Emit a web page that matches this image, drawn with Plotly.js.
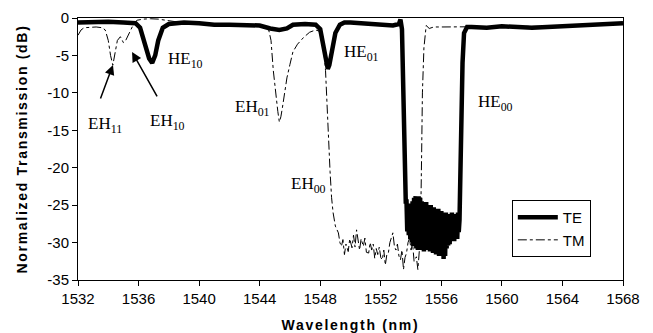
<!DOCTYPE html>
<html>
<head>
<meta charset="utf-8">
<script src="https://cdn.plot.ly/plotly-3.0.1.min.js"></script>
<style>
  html, body { margin: 0; padding: 0; background: #fff; }
  #chart { width: 653px; height: 333px; }
  .xtitle, .ytitle { letter-spacing: 1.7px; }
</style>
</head>
<body>
<div id="chart"></div>
<script>
// TE (thick solid) measured transmission
const teWavelength = [
  1532.0, 1533.0, 1534.0, 1535.0, 1535.8, 1536.1, 1536.4, 1536.7, 1536.9, 1537.1,
  1537.3, 1537.6, 1538.0, 1539.0, 1540.0, 1541.0, 1542.0, 1543.0, 1544.0, 1544.7,
  1545.3, 1545.8, 1546.2, 1547.0, 1547.7, 1548.0, 1548.2, 1548.4, 1548.5, 1548.6,
  1548.8, 1549.0, 1549.3, 1549.6, 1550.0, 1551.0, 1552.0, 1552.8, 1553.2, 1553.3,
  1553.4, 1553.45, 1553.5, 1553.55, 1553.6, 1553.65,
  1553.70, 1553.75, 1553.80, 1553.85, 1553.90, 1553.95, 1554.00, 1554.05, 1554.10, 1554.15,
  1554.20, 1554.25, 1554.30, 1554.35, 1554.40, 1554.45, 1554.50, 1554.55, 1554.60, 1554.65,
  1554.70, 1554.75, 1554.80, 1554.85, 1554.90, 1554.95, 1555.00, 1555.05, 1555.10, 1555.15,
  1555.20, 1555.25, 1555.30, 1555.35, 1555.40, 1555.45, 1555.50, 1555.55, 1555.60, 1555.65,
  1555.70, 1555.75, 1555.80, 1555.85, 1555.90, 1555.95, 1556.00, 1556.05, 1556.10, 1556.15,
  1556.20, 1556.25, 1556.30, 1556.35, 1556.40, 1556.45, 1556.50, 1556.55, 1556.60, 1556.65,
  1556.70, 1556.75, 1556.80, 1556.85, 1556.90, 1556.95, 1557.00, 1557.05, 1557.10, 1557.15,
  1557.20, 1557.3, 1557.4, 1557.5, 1557.7,
  1558.0, 1559.0, 1560.0, 1561.0, 1562.0, 1563.0, 1564.0, 1565.0, 1566.0, 1567.0, 1568.0
];
const teTransmission = [
  -0.6, -0.5, -0.5, -0.6, -0.7, -1.3, -3.2, -5.4, -6.0, -5.0,
  -3.0, -1.3, -0.8, -0.6, -0.7, -0.9, -0.9, -0.9, -1.0, -1.4,
  -1.6, -1.4, -0.9, -0.8, -0.9, -1.5, -3.5, -6.0, -6.8, -6.3,
  -4.0, -2.0, -0.9, -0.6, -0.6, -0.7, -0.9, -1.0, -0.8, -0.2,
  -1.5, -6.0, -12.0, -18.0, -23.0, -24.5,
  -24.5, -28.5, -25.0, -29.0, -24.8, -29.5, -25.2, -30.0, -24.5, -30.5,
  -24.0, -30.2, -23.8, -30.8, -24.2, -31.0, -23.8, -30.5, -24.0, -31.0,
  -24.5, -30.6, -24.8, -31.2, -25.0, -30.8, -24.6, -31.0, -25.2, -30.4,
  -25.5, -31.2, -25.0, -30.8, -25.6, -31.4, -25.3, -30.6, -25.8, -31.6,
  -26.0, -31.0, -25.5, -31.8, -26.2, -31.2, -25.8, -31.6, -26.0, -32.2,
  -26.4, -31.8, -26.0, -30.8, -26.5, -30.4, -26.2, -30.2, -26.6, -29.8,
  -26.0, -29.6, -26.4, -29.8, -26.6, -29.4, -26.2, -29.5, -26.0, -28.6,
  -27.0, -15.0, -6.0, -2.0, -1.2,
  -1.2, -1.3, -1.1, -1.2, -1.3, -1.2, -1.1, -1.0, -0.9, -0.8, -0.7
];

// TM (thin dash-dot) measured transmission
const tmWavelength = [
  1532.0, 1532.2, 1532.4, 1532.8, 1533.2, 1533.6, 1533.8, 1534.0, 1534.15, 1534.3,
  1534.45, 1534.6, 1534.8, 1535.0, 1535.15, 1535.3, 1535.5, 1535.7, 1535.9, 1536.3,
  1536.8, 1537.3, 1537.8, 1538.3, 1538.8, 1539.5, 1540.5, 1541.5, 1542.5, 1543.5,
  1544.2, 1544.6, 1544.75, 1544.9, 1545.05, 1545.2, 1545.3, 1545.4, 1545.5, 1545.65,
  1545.8, 1546.0, 1546.2, 1546.5, 1546.9, 1547.3, 1547.7, 1548.0, 1548.2, 1548.35,
  1548.45, 1548.55, 1548.65, 1548.75, 1548.85, 1549.0, 1549.2, 1549.3, 1549.4, 1549.5,
  1549.6, 1549.7, 1549.85, 1549.95, 1550.1, 1550.2, 1550.3, 1550.4, 1550.5, 1550.6,
  1550.7, 1550.85, 1550.95, 1551.05, 1551.2, 1551.3, 1551.4, 1551.5, 1551.6, 1551.7,
  1551.8, 1551.9, 1552.0, 1552.1, 1552.2, 1552.3, 1552.4, 1552.5, 1552.6, 1552.7,
  1552.8, 1552.9, 1553.0, 1553.1, 1553.2, 1553.3, 1553.4, 1553.5, 1553.6, 1553.7,
  1553.8, 1553.9, 1554.0, 1554.1, 1554.2, 1554.35, 1554.45, 1554.55, 1554.65, 1554.7,
  1554.75, 1554.85, 1554.95, 1555.0, 1555.2, 1555.5, 1556.0, 1556.5, 1557.0, 1557.5,
  1558.0, 1559.0, 1560.0, 1561.0, 1562.0, 1563.0, 1564.0, 1565.0, 1566.0, 1567.0, 1568.0
];
const tmTransmission = [
  -2.3, -1.6, -1.3, -1.2, -1.2, -1.3, -1.6, -3.0, -5.0, -6.3,
  -4.5, -3.0, -2.5, -3.3, -3.0, -2.4, -1.4, -0.7, -0.3, -0.15,
  -0.1, -0.15, -0.3, -0.5, -0.6, -0.7, -0.8, -0.9, -0.9, -0.9,
  -1.0, -1.6, -3.0, -7.0, -10.0, -12.5, -13.9, -13.2, -12.0, -10.0,
  -8.0, -6.2, -4.5, -3.5, -2.6, -1.9, -1.6, -1.8, -3.5, -7.0,
  -12.0, -17.0, -20.5, -24.0, -26.0, -27.8, -28.7, -30.0, -30.5, -29.6,
  -31.6, -30.2, -31.2, -29.5, -30.7, -29.0, -30.6, -28.3, -29.9, -31.0,
  -29.5, -30.5, -29.4, -31.3, -31.4, -30.0, -31.0, -30.2, -32.1, -30.8,
  -31.6, -30.6, -32.0, -32.3, -31.0, -33.0, -31.6, -31.4, -30.0, -29.2,
  -28.7, -30.5, -31.0, -30.2, -31.8, -32.3, -31.0, -33.6, -32.0, -31.4,
  -30.0, -29.4, -31.0, -30.1, -32.5, -31.9, -33.6, -31.0, -25.0, -18.0,
  -10.0, -4.0, -1.5, -1.0, -1.4, -1.2, -1.2, -1.2, -1.2, -1.2,
  -1.2, -1.2, -1.1, -1.2, -1.2, -1.1, -1.0, -0.9, -0.9, -0.8, -0.7
];

const xTickValues = [1532, 1536, 1540, 1544, 1548, 1552, 1556, 1560, 1564, 1568];
const yTickValues = [0, -5, -10, -15, -20, -25, -30, -35];

const serif = { family: '"Liberation Serif", "Times New Roman", serif', size: 17, color: '#000' };

const traces = [
  { x: teWavelength, y: teTransmission, name: 'TE', mode: 'lines',
    line: { color: '#000', width: 4.5 } },
  { x: tmWavelength, y: tmTransmission, name: 'TM', mode: 'lines',
    line: { color: '#000', width: 1, dash: 'dashdot' } }
];

function label(text, x, y) {
  return { text: text, x: x, y: y, xref: 'x', yref: 'y', showarrow: false, font: serif };
}
function arrow(xHead, yHead, xTail, yTail) {
  return { text: '', x: xHead, y: yHead, ax: xTail, ay: yTail, xref: 'x', yref: 'y',
           axref: 'x', ayref: 'y', showarrow: true, arrowhead: 2, arrowsize: 1.3,
           arrowwidth: 1.5, arrowcolor: '#000' };
}

const layout = {
  width: 653, height: 333,
  margin: { l: 78, r: 30, t: 18, b: 53 },
  paper_bgcolor: '#fff', plot_bgcolor: '#fff',
  font: { family: '"Liberation Sans", Arial, sans-serif', size: 15, color: '#000' },
  showlegend: true,
  legend: {
    x: 0.796, y: 0.305, xanchor: 'left', yanchor: 'top',
    bordercolor: '#000', borderwidth: 1, bgcolor: '#fff',
    font: { family: '"Liberation Sans", Arial, sans-serif', size: 15, color: '#000' },
    tracegroupgap: 0, itemwidth: 40
  },
  xaxis: {
    range: [1532, 1568], tickvals: xTickValues, ticktext: xTickValues.map(String),
    showgrid: false, zeroline: false, showline: true, mirror: true,
    linecolor: '#000', linewidth: 1, ticks: 'outside', ticklen: 5, tickcolor: '#000',
    tickfont: { size: 15 },
    title: { text: 'Wavelength (nm)', standoff: 14,
             font: { family: '"Liberation Sans", Arial, sans-serif', size: 14, color: '#000', weight: 'bold' } }
  },
  yaxis: {
    range: [-35, 0], tickvals: yTickValues, ticktext: yTickValues.map(String),
    showgrid: false, zeroline: false, showline: true, mirror: true,
    linecolor: '#000', linewidth: 1, ticks: 'outside', ticklen: 5, tickcolor: '#000',
    tickfont: { size: 15 },
    title: { text: 'Normalized Transmission (dB)', standoff: 16,
             font: { family: '"Liberation Sans", Arial, sans-serif', size: 14, color: '#000', weight: 'bold' } }
  },
  annotations: [
    label('HE<sub>10</sub>', 1539.1, -5.6),
    label('EH<sub>11</sub>', 1533.8, -14.3),
    label('EH<sub>10</sub>', 1537.9, -13.9),
    label('EH<sub>01</sub>', 1543.55, -12.0),
    label('HE<sub>01</sub>', 1550.75, -4.7),
    label('HE<sub>00</sub>', 1559.6, -11.3),
    label('EH<sub>00</sub>', 1547.2, -22.3),
    arrow(1534.31, -6.27, 1533.45, -10.95),
    arrow(1535.57, -4.54, 1537.28, -10.68)
  ]
};

Plotly.newPlot('chart', traces, layout, { staticPlot: true, displayModeBar: false });
</script>
</body>
</html>
